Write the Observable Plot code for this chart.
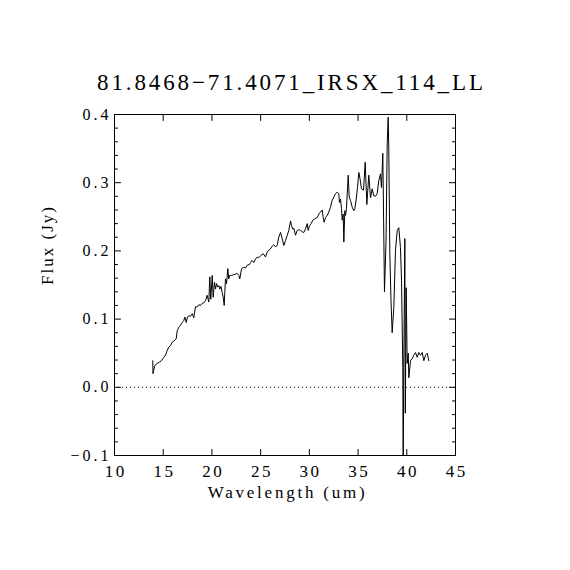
<!DOCTYPE html>
<html><head><meta charset="utf-8">
<script src="https://cdn.jsdelivr.net/npm/d3@7"></script>
<script src="https://cdn.jsdelivr.net/npm/@observablehq/plot@0.6"></script>
<style>body{margin:0;background:#fff}</style>
</head><body><div id="chart"></div>
<script>
const titleText = "81.8468\u221271.4071_IRSX_114_LL";
const xLabel = "Wavelength (um)";
const yLabel = "Flux (Jy)";

const wavelength = [13.93,13.95,14.14,14.38,14.62,14.82,15.06,15.23,15.41,15.57,15.75,15.92,16.19,16.33,16.44,16.60,16.77,16.95,17.11,17.22,
17.36,17.49,17.63,17.80,17.98,18.14,18.31,18.49,18.65,18.83,19.00,19.17,19.34,19.51,19.68,19.78,19.88,20.03,20.13,20.26,
20.37,20.47,20.60,20.71,20.81,20.93,21.05,21.16,21.26,21.32,21.39,21.50,21.63,21.73,21.83,22.01,22.21,22.42,22.59,22.76,
22.86,23.04,23.27,23.45,23.62,23.86,23.96,24.13,24.30,24.47,24.65,24.81,24.99,25.26,25.50,25.67,25.84,26.01,26.19,26.35,
26.53,26.70,26.86,27.04,27.21,27.38,27.55,27.73,27.89,28.07,28.17,28.30,28.42,28.58,28.75,28.92,29.09,29.27,29.43,29.60,
29.78,29.88,30.01,30.19,30.35,30.56,30.81,30.97,31.14,31.32,31.42,31.52,31.66,31.83,32.00,32.17,32.34,32.51,32.68,32.86,
33.02,33.09,33.20,33.30,33.37,33.47,33.54,33.64,33.71,33.81,33.92,33.99,34.09,34.22,34.40,34.56,34.67,34.81,34.94,35.08,
35.20,35.35,35.56,35.73,35.90,36.10,36.28,36.45,36.61,36.79,36.96,37.13,37.30,37.40,37.54,37.71,37.87,37.99,38.09,38.15,
38.26,38.38,38.50,38.67,38.84,39.02,39.18,39.35,39.46,39.59,39.63,39.69,39.80,39.85,39.94,40.04,40.15,40.21,40.38,40.56,
40.72,40.90,41.07,41.23,41.41,41.58,41.75,41.92,42.10,42.26];
const flux = [0.039,0.020,0.032,0.035,0.037,0.039,0.044,0.047,0.054,0.059,0.061,0.066,0.069,0.071,0.083,0.088,0.091,0.095,0.098,0.103,
0.095,0.103,0.105,0.104,0.108,0.102,0.118,0.118,0.121,0.120,0.123,0.124,0.127,0.135,0.125,0.162,0.129,0.164,0.132,0.154,
0.144,0.152,0.147,0.149,0.144,0.148,0.139,0.132,0.120,0.139,0.159,0.152,0.174,0.159,0.164,0.164,0.165,0.166,0.167,0.164,
0.159,0.174,0.176,0.175,0.179,0.180,0.183,0.186,0.183,0.188,0.191,0.190,0.193,0.196,0.191,0.198,0.201,0.203,0.207,0.209,
0.206,0.208,0.220,0.227,0.218,0.208,0.215,0.223,0.230,0.244,0.237,0.232,0.233,0.223,0.230,0.231,0.230,0.228,0.227,0.232,
0.240,0.230,0.237,0.240,0.245,0.247,0.249,0.254,0.257,0.260,0.249,0.242,0.249,0.252,0.257,0.264,0.274,0.279,0.284,0.286,
0.284,0.271,0.276,0.262,0.245,0.254,0.213,0.259,0.252,0.262,0.293,0.311,0.279,0.274,0.264,0.259,0.262,0.276,0.293,0.315,
0.306,0.291,0.289,0.330,0.268,0.311,0.278,0.291,0.281,0.280,0.284,0.303,0.313,0.293,0.343,0.140,0.215,0.357,0.396,0.352,
0.196,0.127,0.080,0.117,0.201,0.230,0.234,0.205,0.157,0.029,-0.130,0.025,0.218,-0.038,0.146,0.035,0.050,0.014,0.039,0.042,
0.047,0.051,0.044,0.051,0.047,0.051,0.039,0.047,0.050,0.039];

const xTicks = [10,15,20,25,30,35,40,45];
const yTicks = [-0.1,0.0,0.1,0.2,0.3,0.4];
const yMinorTicks = [-0.08,-0.06,-0.04,-0.02,0.02,0.04,0.06,0.08,0.12,0.14,0.16,0.18,0.22,0.24,0.26,0.28,0.32,0.34,0.36,0.38];

const spectrum = wavelength.map((w, i) => ({w, f: flux[i]}));
const tickShape = {draw(ctx, l) { ctx.moveTo(0, 0); ctx.lineTo(0, -l); }};
const font = "'Liberation Serif', 'DejaVu Serif', serif";

function ticksX(vals, anchor, len) {
  return Plot.vector(vals, {x: d => d, frameAnchor: anchor, length: len, rotate: anchor === "bottom" ? 0 : 180,
    shape: tickShape, anchor: "start", stroke: "black", strokeWidth: 1});
}
function ticksY(vals, anchor, len) {
  return Plot.vector(vals, {y: d => d, frameAnchor: anchor, length: len, rotate: anchor === "left" ? 90 : -90,
    shape: tickShape, anchor: "start", stroke: "black", strokeWidth: 1});
}

const chart = Plot.plot({
  width: 570, height: 570,
  marginLeft: 114, marginRight: 115, marginTop: 114, marginBottom: 115,
  style: {fontFamily: font, background: "white", color: "black"},
  x: {domain: [10, 45]},
  y: {domain: [-0.1, 0.4]},
  marks: [
    Plot.ruleY([0], {stroke: "black", strokeDasharray: "1,3", strokeWidth: 1}),
    Plot.line(spectrum, {x: "w", y: "f", stroke: "black", strokeWidth: 1, clip: true}),
    Plot.frame({stroke: "black", strokeWidth: 1}),
    ticksX(xTicks, "bottom", 6), ticksX(xTicks, "top", 6),
    ticksY(yTicks, "left", 6), ticksY(yTicks, "right", 6),
    ticksY(yMinorTicks, "left", 3), ticksY(yMinorTicks, "right", 3),
    Plot.axisX(xTicks, {anchor: "bottom", tickSize: 0, tickPadding: 9, fontSize: 17, label: null,
      tickFormat: d => String(d), dx: 1.25}),
    Plot.axisY(yTicks, {anchor: "left", tickSize: 0, tickPadding: 3, fontSize: 16, label: null,
      tickFormat: d3.format(".1f")}),
    Plot.text([xLabel], {frameAnchor: "bottom", dy: 42, lineAnchor: "bottom", fontSize: 17,
      fill: "black", dx: 1.2}),
    Plot.text([yLabel], {frameAnchor: "left", dx: -67, rotate: -90, lineAnchor: "middle", fontSize: 17,
      fill: "black"}),
    Plot.text([titleText], {frameAnchor: "top", dy: -25, dx: 5, lineAnchor: "bottom", fontSize: 23, fill: "black"})
  ]
});
const svg = d3.select(chart);
svg.selectAll('g[aria-label="x-axis tick label"] text').style("letter-spacing", "2.5px");
svg.selectAll('g[aria-label="y-axis tick label"] text').style("letter-spacing", "3px");
svg.selectAll("text").filter(function() { return this.textContent === xLabel; })
  .attr("textLength", 157).attr("lengthAdjust", "spacing");
svg.selectAll("text").filter(function() { return this.textContent === yLabel; })
  .attr("textLength", 78).attr("lengthAdjust", "spacing");
svg.selectAll("text").filter(function() { return this.textContent === titleText; })
  .attr("textLength", 386).attr("lengthAdjust", "spacing");
document.getElementById("chart").appendChild(chart);
</script></body></html>
